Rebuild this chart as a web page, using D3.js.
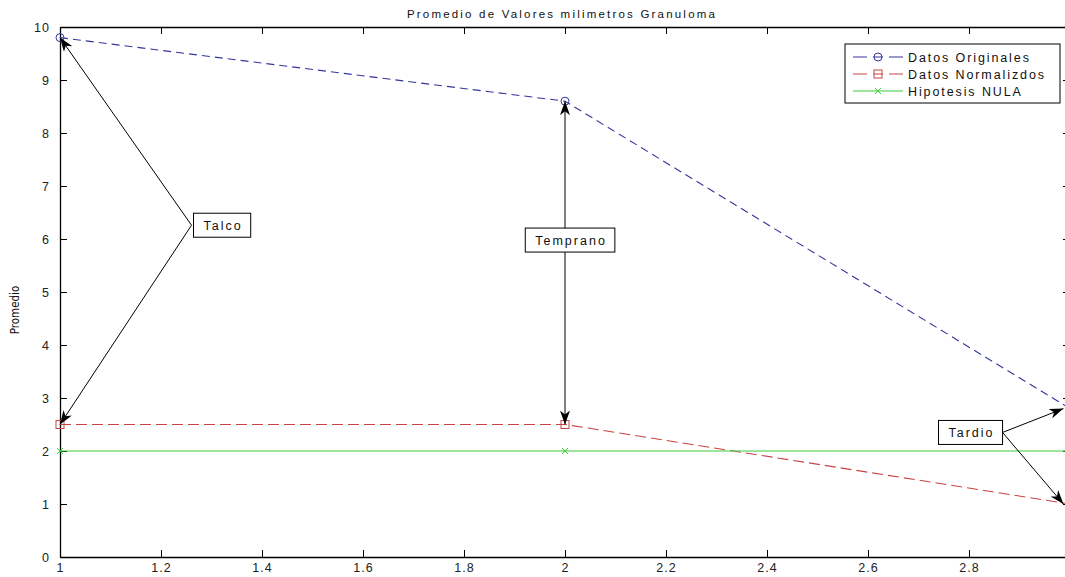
<!DOCTYPE html>
<html>
<head>
<meta charset="utf-8">
<script src="https://cdn.jsdelivr.net/npm/d3@7"></script>
<style>
  html, body { margin: 0; padding: 0; background: #fff; overflow: hidden; }
  svg { display: block; font-family: "Liberation Sans", Arial, sans-serif; }
</style>
</head>
<body>
<svg id="chart" width="1065" height="577"></svg>
<script>
// Promedio de valores (mm) del granuloma en tres momentos
const xValues = [1, 2, 3];
const datosOriginales = [9.8, 8.6, 2.8];
const datosNormalizados = [2.5, 2.5, 1.0];
const hipotesisNula = [2, 2, 2];

const xTicks = [1, 1.2, 1.4, 1.6, 1.8, 2, 2.2, 2.4, 2.6, 2.8, 3];
const xTickLabels = ["1", "1.2", "1.4", "1.6", "1.8", "2", "2.2", "2.4", "2.6", "2.8", ""];
const yTicks = [0, 1, 2, 3, 4, 5, 6, 7, 8, 9, 10];

const seriesNames = ["Datos Originales", "Datos Normalizdos", "Hipotesis NULA"];

// Anotaciones: caja de texto y puntas de flecha (coordenadas de datos)
const annotLabels = ["Talco", "Temprano", "Tardio"];
const annotBoxX = [1.323, 2.012, 2.805];
const annotBoxY = [6.26, 5.98, 2.35];
const annotTargets = [
  [[1.0, 9.8], [1.0, 2.5]],
  [[2.0, 8.6], [2.0, 2.5]],
  [[2.987, 2.8], [2.987, 1.0]]
];
const annotFrom = ["left", "vertical", "right"];

const svg = d3.select("#chart");
const mLeft = 60, mTop = 27, mRight = 1070, mBottom = 557;

const x = d3.scaleLinear().domain([1, 3]).range([mLeft, mRight]);
const y = d3.scaleLinear().domain([0, 10]).range([mBottom, mTop]);

const defs = svg.append("defs");
defs.append("marker")
  .attr("id", "arrow")
  .attr("viewBox", "0 0 14 10")
  .attr("refX", 14).attr("refY", 5)
  .attr("markerWidth", 14).attr("markerHeight", 10)
  .attr("markerUnits", "userSpaceOnUse")
  .attr("orient", "auto")
  .append("path")
  .attr("d", "M0,0 L14,5 L0,10 L4,5 Z")
  .attr("fill", "#000");

// Title
svg.append("text")
  .attr("x", 562).attr("y", 18)
  .attr("text-anchor", "middle")
  .attr("font-size", 11.5)
  .attr("letter-spacing", 2.2)
  .attr("fill", "#111")
  .text("Promedio de Valores milimetros Granuloma");

// Y label
svg.append("text")
  .attr("transform", `translate(19,${(mTop + mBottom) / 2 + 18}) rotate(-90)`)
  .attr("text-anchor", "middle")
  .attr("font-size", 11.5)
  .attr("font-family", "'Liberation Sans Narrow', 'DejaVu Sans Condensed', sans-serif")
  .attr("fill", "#111")
  .text("Promedio");

// Axes (box with inward ticks)
const tickLen = 7;
const axisBottom = d3.axisBottom(x).tickValues(xTicks).tickSizeInner(-tickLen).tickSizeOuter(0)
  .tickPadding(6).tickFormat((d, i) => xTickLabels[i]);
const axisTop = d3.axisTop(x).tickValues(xTicks).tickSizeInner(-tickLen).tickSizeOuter(0).tickFormat("");
const axisLeft = d3.axisLeft(y).tickValues(yTicks).tickSizeInner(-tickLen).tickSizeOuter(0)
  .tickPadding(10).tickFormat(d3.format("d"));
const axisRight = d3.axisRight(y).tickValues(yTicks).tickSizeInner(-tickLen).tickSizeOuter(0).tickFormat("");

function styleAxis(g) {
  g.selectAll("path.domain").attr("stroke", "#000").attr("stroke-width", 1.3);
  g.selectAll(".tick line").attr("stroke", "#000").attr("stroke-width", 1);
  g.selectAll(".tick text").attr("font-size", 12.5).attr("fill", "#222")
    .attr("letter-spacing", 1)
    .attr("font-family", "'Liberation Sans', Arial, sans-serif");
}
svg.append("g").attr("transform", `translate(0,${mBottom})`).call(axisBottom).call(styleAxis);
svg.append("g").attr("transform", `translate(0,${mTop})`).call(axisTop).call(styleAxis);
svg.append("g").attr("transform", `translate(${mLeft},0)`).call(axisLeft).call(styleAxis);
svg.append("g").attr("transform", `translate(${mRight},0)`).call(axisRight).call(styleAxis);

// Series
const colors = ["#35359c", "#c84444", "#3ccc3c"];
const dashes = ["8,5", "11,5", null];
const seriesData = [datosOriginales, datosNormalizados, hipotesisNula];
const line = d3.line().x((d, i) => x(xValues[i])).y(d => y(d));

const plot = svg.append("g");
seriesData.forEach((vals, s) => {
  plot.append("path")
    .datum(vals)
    .attr("d", line)
    .attr("fill", "none")
    .attr("stroke", colors[s])
    .attr("stroke-width", 1.1)
    .attr("stroke-dasharray", dashes[s]);
});

function drawMarker(g, s, cx, cy) {
  if (s === 0) {
    g.append("circle").attr("cx", cx).attr("cy", cy).attr("r", 4)
      .attr("fill", "none").attr("stroke", colors[0]).attr("stroke-width", 1);
  } else if (s === 1) {
    g.append("rect").attr("x", cx - 4).attr("y", cy - 4).attr("width", 8).attr("height", 8)
      .attr("fill", "none").attr("stroke", colors[1]).attr("stroke-width", 1);
  } else {
    g.append("path").attr("d", `M${cx - 3},${cy - 3}L${cx + 3},${cy + 3}M${cx - 3},${cy + 3}L${cx + 3},${cy - 3}`)
      .attr("stroke", colors[2]).attr("stroke-width", 1);
  }
}
seriesData.forEach((vals, s) => {
  vals.forEach((v, i) => drawMarker(plot, s, x(xValues[i]), y(v)));
});

// Annotations
const ann = svg.append("g");
const lsp = 2;
annotLabels.forEach((label, k) => {
  const bx = x(annotBoxX[k]), by = y(annotBoxY[k]);
  const t = ann.append("text")
    .attr("x", bx).attr("y", by + 4.5)
    .attr("text-anchor", "middle")
    .attr("font-size", 12.5)
    .attr("letter-spacing", lsp)
    .attr("fill", "#111")
    .text(label);
  const bb = t.node().getBBox();
  const padX = 10, h = 24;
  const rx = bb.x - padX, rw = bb.width - lsp + padX * 2;
  ann.insert("rect", "text")
    .attr("x", rx).attr("y", by - h / 2)
    .attr("width", rw).attr("height", h)
    .attr("fill", "#fff").attr("stroke", "#000").attr("stroke-width", 1);

  annotTargets[k].forEach((tgt, j) => {
    let sx, sy;
    if (annotFrom[k] === "left") { sx = rx - 2; sy = by; }
    else if (annotFrom[k] === "right") { sx = rx + rw; sy = by; }
    else { sx = x(tgt[0]); sy = j === 0 ? by - h / 2 : by + h / 2; }
    ann.append("line")
      .attr("x1", sx).attr("y1", sy)
      .attr("x2", x(tgt[0])).attr("y2", y(tgt[1]))
      .attr("stroke", "#000").attr("stroke-width", 1)
      .attr("marker-end", "url(#arrow)");
  });
});

// Legend
const lg = svg.append("g");
const lgX = 845, lgY = 44, lgW = 215, lgH = 59;
lg.append("rect").attr("x", lgX).attr("y", lgY).attr("width", lgW).attr("height", lgH)
  .attr("fill", "#fff").attr("stroke", "#000").attr("stroke-width", 1);
const rowY = [57, 74, 91];
seriesNames.forEach((name, s) => {
  const yy = rowY[s];
  lg.append("line").attr("x1", 853).attr("x2", 903).attr("y1", yy).attr("y2", yy)
    .attr("stroke", colors[s]).attr("stroke-width", 1.1)
    .attr("stroke-dasharray", s === 2 ? null : "14,6,10,6,14");
  drawMarker(lg, s, 878, yy);
  lg.append("text").attr("x", 908).attr("y", yy + 4.5)
    .attr("font-size", 12.5).attr("letter-spacing", 1.9)
    .attr("fill", "#111").text(name);
});
</script>
</body>
</html>
